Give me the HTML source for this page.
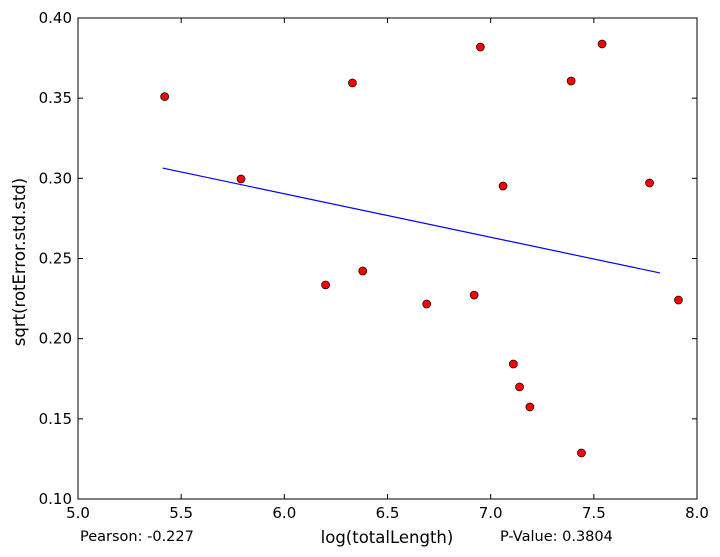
<!DOCTYPE html>
<html><head><meta charset="utf-8"><style>
body{margin:0;background:#fff;}
svg{display:block;font-family:"DejaVu Sans","Liberation Sans",sans-serif;}
</style></head><body>
<svg id="chart" width="720" height="557" viewBox="0 0 720 557"></svg>
<script>
const xValues=[5.42,5.79,6.20,6.33,6.38,6.69,6.92,6.95,7.06,7.11,7.14,7.19,7.39,7.44,7.54,7.77,7.91];
const yValues=[0.351,0.2996,0.2335,0.3595,0.2422,0.2216,0.2272,0.3819,0.2952,0.1842,0.1699,0.1574,0.3607,0.1287,0.3838,0.2971,0.2241];
const fitX=[5.41,7.82];
const fitY=[0.3064,0.241];
const xTicks=[5.0,5.5,6.0,6.5,7.0,7.5,8.0];
const yTicks=[0.10,0.15,0.20,0.25,0.30,0.35,0.40];
const L=78,R=697,T=18,B=499;
const sx=v=>L+(v-5)/3*(R-L);
const sy=v=>B-(v-0.1)/0.3*(B-T);
const svg=document.getElementById('chart');
const NS='http://www.w3.org/2000/svg';
function mk(tag,attrs,parent){const e=document.createElementNS(NS,tag);for(const k in attrs)e.setAttribute(k,attrs[k]);(parent||svg).appendChild(e);return e;}
let frame=mk('rect',{x:L,y:T,width:R-L,height:B-T,fill:'none',stroke:'#000','stroke-width':1});


xTicks.forEach(t=>{
  const x=sx(t);
  mk('line',{x1:x,y1:B,x2:x,y2:B-5,stroke:'#000'});
  mk('line',{x1:x,y1:T,x2:x,y2:T+5,stroke:'#000'});
  const tx=mk('text',{x:x,y:B+19,'text-anchor':'middle','font-size':15});
  tx.textContent=t.toFixed(1);
  
  
});
yTicks.forEach(t=>{
  const y=sy(t);
  mk('line',{x1:L,y1:y,x2:L+5,y2:y,stroke:'#000'});
  mk('line',{x1:R,y1:y,x2:R-5,y2:y,stroke:'#000'});
  const tx=mk('text',{x:L-6,y:y+5,'text-anchor':'end','font-size':15});
  tx.textContent=t.toFixed(2);
  
  
});
const fl=mk('line',{x1:sx(fitX[0]),y1:sy(fitY[0]),x2:sx(fitX[1]),y2:sy(fitY[1]),stroke:'#0000ff','stroke-width':1.2});


xValues.forEach((v,i)=>{
  const c=mk('circle',{cx:sx(v),cy:sy(yValues[i]),r:4,fill:'#ff0000',stroke:'#000','stroke-width':0.7});
  
  
});
const yl=mk('text',{x:0,y:0,'text-anchor':'middle','font-size':16.5,transform:'translate(25,262) rotate(-90)'});
yl.textContent='sqrt(rotError.std.std)';


const xl=mk('text',{x:387,y:543,'text-anchor':'middle','font-size':16.5});
xl.textContent='log(totalLength)';


const p1=mk('text',{x:80,y:541,'font-size':14.5});
p1.textContent='Pearson: -0.227';


const p2=mk('text',{x:500,y:541,'font-size':14.5});
p2.textContent='P-Value: 0.3804';


</script>
</body></html>
